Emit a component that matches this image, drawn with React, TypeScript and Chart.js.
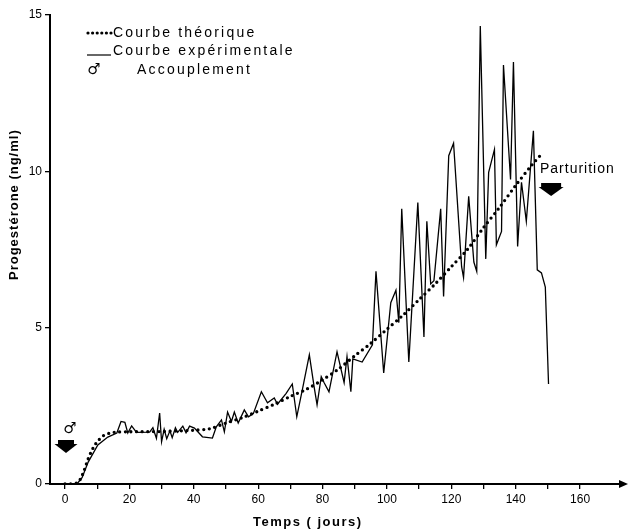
import React, { useEffect, useRef } from 'react';
import { Chart, registerables } from 'chart.js';

Chart.register(...registerables);

// Theoretical curve (days, ng/ml)
const theoDays = [0, 2, 4, 5, 6, 7, 8, 9, 10, 12, 14, 16, 20, 30, 40, 45, 50, 55, 60, 65, 70, 75, 80, 85, 90, 95, 100, 105, 110, 115, 120, 125, 130, 135, 140, 145, 148];
const theoValues = [0, 0, 0.05, 0.2, 0.45, 0.75, 1.0, 1.2, 1.35, 1.55, 1.63, 1.66, 1.67, 1.68, 1.72, 1.77, 1.95, 2.12, 2.33, 2.55, 2.8, 3.03, 3.33, 3.68, 4.1, 4.5, 4.95, 5.4, 5.9, 6.4, 6.95, 7.5, 8.2, 8.85, 9.55, 10.2, 10.55];

// Experimental curve (days, ng/ml)
const expDays = [0, 3.7, 5.3, 7.2, 10.2, 13.3, 16.1, 17.4, 18.6, 19.5, 20.7, 22.2, 26.3, 27.3, 28.4, 29.4, 30, 30.8, 31.6, 32.6, 33.3, 34.3, 35, 36.6, 37.6, 38.7, 40.2, 42.7, 45.8, 47, 48.6, 49.5, 50.5, 51.7, 52.6, 53.8, 55.7, 57, 58.5, 61, 62.9, 65, 66, 68.7, 70.6, 72, 73.7, 75.9, 77.4, 78.3, 79.6, 80.5, 82, 84.5, 86.7, 87.6, 88.8, 89.4, 92.3, 95.5, 96.6, 99, 101.2, 102.8, 103.7, 104.6, 106.8, 109.6, 111.5, 112.4, 113.6, 114.6, 116.7, 117.6, 119.2, 120.7, 123.2, 123.8, 125.4, 127, 127.9, 129, 130.7, 131.6, 133.4, 134, 135.6, 136.2, 138.4, 139.3, 140.6, 141.8, 143.3, 145.5, 146.7, 148, 149.2, 150.2];
const expValues = [0, 0, 0.2, 0.7, 1.25, 1.5, 1.63, 2.0, 1.97, 1.63, 1.86, 1.65, 1.66, 1.8, 1.46, 2.27, 1.35, 1.75, 1.45, 1.7, 1.48, 1.8, 1.65, 1.85, 1.64, 1.85, 1.79, 1.51, 1.47, 1.83, 2.05, 1.67, 2.3, 2.0, 2.3, 1.95, 2.37, 2.15, 2.25, 2.95, 2.6, 2.75, 2.55, 2.9, 3.2, 2.15, 3.0, 4.13, 3.1, 2.53, 3.43, 3.24, 2.95, 4.23, 3.24, 4.07, 2.95, 4.0, 3.9, 4.45, 6.8, 3.55, 5.8, 6.2, 5.16, 8.8, 3.9, 9.0, 4.7, 8.4, 6.4, 6.5, 8.8, 6.0, 10.5, 10.9, 6.95, 6.6, 9.2, 7.1, 6.8, 14.65, 7.2, 9.97, 10.7, 7.65, 8.08, 13.4, 9.74, 13.5, 7.6, 9.65, 8.4, 11.3, 6.85, 6.75, 6.3, 3.2];

const xTickMarks = [0, 10, 20, 30, 40, 50, 60, 70, 80, 90, 100, 110, 120, 130, 140, 150, 160];
const xTickLabels = [0, 20, 40, 60, 80, 100, 120, 140, 160];
const yTickValues = [0, 5, 10, 15];

const xTitle = 'Temps ( jours)';
const yTitle = 'Progestérone (ng/ml)';
const legendTheo = 'Courbe théorique';
const legendExp = 'Courbe expérimentale';
const legendMating = 'Accouplement';
const partLabel = 'Parturition';
const maleSymbol = '♂';
const matingDay = 0;
const partDay = 151;

const SANS = '"Liberation Sans", Arial, sans-serif';

function drawArrow(ctx: CanvasRenderingContext2D, cx: number, top: number, bandW: number, bandH: number, baseW: number, tipY: number) {
  ctx.beginPath();
  ctx.rect(cx - bandW / 2, top, bandW, bandH);
  ctx.fill();
  ctx.beginPath();
  ctx.moveTo(cx - baseW / 2, top + bandH - 1);
  ctx.lineTo(cx + baseW / 2, top + bandH - 1);
  ctx.lineTo(cx, tipY);
  ctx.closePath();
  ctx.fill();
}

export default function App() {
  const ref = useRef<HTMLCanvasElement>(null);

  useEffect(() => {
    document.body.style.margin = '0';
    const canvas = ref.current;
    if (!canvas) return;

    const annot = {
      id: 'annot',
      afterDraw(chart: any) {
        const ctx: CanvasRenderingContext2D = chart.ctx;
        const xs = chart.scales.x;
        const ys = chart.scales.y;
        const area = chart.chartArea;
        ctx.save();
        ctx.fillStyle = '#000';
        ctx.strokeStyle = '#000';

        // x axis arrow head
        const ay = ys.getPixelForValue(0);
        ctx.beginPath();
        ctx.moveTo(area.right + 8, ay);
        ctx.lineTo(area.right - 1, ay - 4);
        ctx.lineTo(area.right - 1, ay + 4);
        ctx.closePath();
        ctx.fill();

        // legend
        (ctx as any).letterSpacing = '2.2px';
        ctx.font = `14px ${SANS}`;
        ctx.textBaseline = 'middle';
        ctx.textAlign = 'left';
        for (let i = 0; i < 6; i++) {
          ctx.beginPath();
          ctx.arc(88 + i * 4.6, 33, 1.6, 0, Math.PI * 2);
          ctx.fill();
        }
        ctx.fillText(legendTheo, 113, 33);
        ctx.lineWidth = 1.2;
        ctx.beginPath();
        ctx.moveTo(87, 55);
        ctx.lineTo(111, 55);
        ctx.stroke();
        ctx.fillText(legendExp, 113, 51);
        ctx.fillText(legendMating, 137, 70);
        (ctx as any).letterSpacing = '0px';
        ctx.font = `15px "DejaVu Sans", sans-serif`;
        ctx.textAlign = 'center';
        ctx.fillText(maleSymbol, 94, 70);

        // mating marker
        const mx = xs.getPixelForValue(matingDay) + 1;
        ctx.fillText(maleSymbol, mx + 4, 429);
        drawArrow(ctx, mx, 440, 16, 5, 23, 453);

        // parturition marker
        const px = xs.getPixelForValue(partDay);
        drawArrow(ctx, px, 183, 20, 5, 25, 196);
        (ctx as any).letterSpacing = '1px';
        ctx.font = `14px ${SANS}`;
        ctx.textAlign = 'left';
        ctx.fillText(partLabel, 540, 169);

        // axis titles
        ctx.font = `bold 13px ${SANS}`;
        (ctx as any).letterSpacing = '1.5px';
        ctx.fillText(xTitle, 253, 522);
        (ctx as any).letterSpacing = '1px';
        ctx.translate(14, 280);
        ctx.rotate(-Math.PI / 2);
        ctx.textAlign = 'left';
        ctx.fillText(yTitle, 0, 0);
        ctx.restore();
      },
    };

    const chart = new Chart(canvas, {
      type: 'line',
      data: {
        datasets: [
          {
            label: legendTheo,
            data: theoDays.map((d, i) => ({ x: d, y: theoValues[i] })),
            borderColor: '#000',
            borderWidth: 3.3,
            borderDash: [0, 5.6],
            borderCapStyle: 'round',
            pointRadius: 0,
            fill: false,
            tension: 0.3,
          },
          {
            label: legendExp,
            data: expDays.map((d, i) => ({ x: d, y: expValues[i] })),
            borderColor: '#000',
            borderWidth: 1.3,
            pointRadius: 0,
            fill: false,
            tension: 0,
          },
        ],
      },
      options: {
        animation: false,
        responsive: false,
        devicePixelRatio: 1,
        events: [],
        layout: { padding: { left: 0, right: 9, top: 15, bottom: 0 } },
        plugins: { legend: { display: false }, tooltip: { enabled: false }, title: { display: false } },
        scales: {
          x: {
            type: 'linear',
            min: -4.66,
            max: 172.4,
            afterBuildTicks: (scale: any) => {
              scale.ticks = xTickMarks.map((v) => ({ value: v }));
            },
            afterFit: (scale: any) => {
              scale.height = 48;
            },
            ticks: {
              autoSkip: false,
              maxRotation: 0,
              color: '#000',
              padding: 3,
              font: { family: SANS, size: 12 },
              callback: (v: any) => (xTickLabels.includes(Number(v)) ? String(v) : ''),
            },
            grid: { drawOnChartArea: false, drawTicks: true, tickLength: 5, color: '#000', lineWidth: 1.3 },
            border: { display: true, color: '#000', width: 2 },
          },
          y: {
            type: 'linear',
            min: 0,
            max: 15,
            afterBuildTicks: (scale: any) => {
              scale.ticks = yTickValues.map((v) => ({ value: v }));
            },
            afterFit: (scale: any) => {
              scale.width = 50;
            },
            ticks: {
              color: '#000',
              padding: 3,
              font: { family: SANS, size: 12 },
            },
            grid: { drawOnChartArea: false, drawTicks: true, tickLength: 5, color: '#000', lineWidth: 1.3 },
            border: { display: true, color: '#000', width: 2 },
          },
        },
      },
      plugins: [annot],
    } as any);

    return () => chart.destroy();
  }, []);

  return (
    <div style={{ width: 629, height: 532 }}>
      <canvas ref={ref} width={629} height={532} style={{ display: 'block' }} />
    </div>
  );
}
